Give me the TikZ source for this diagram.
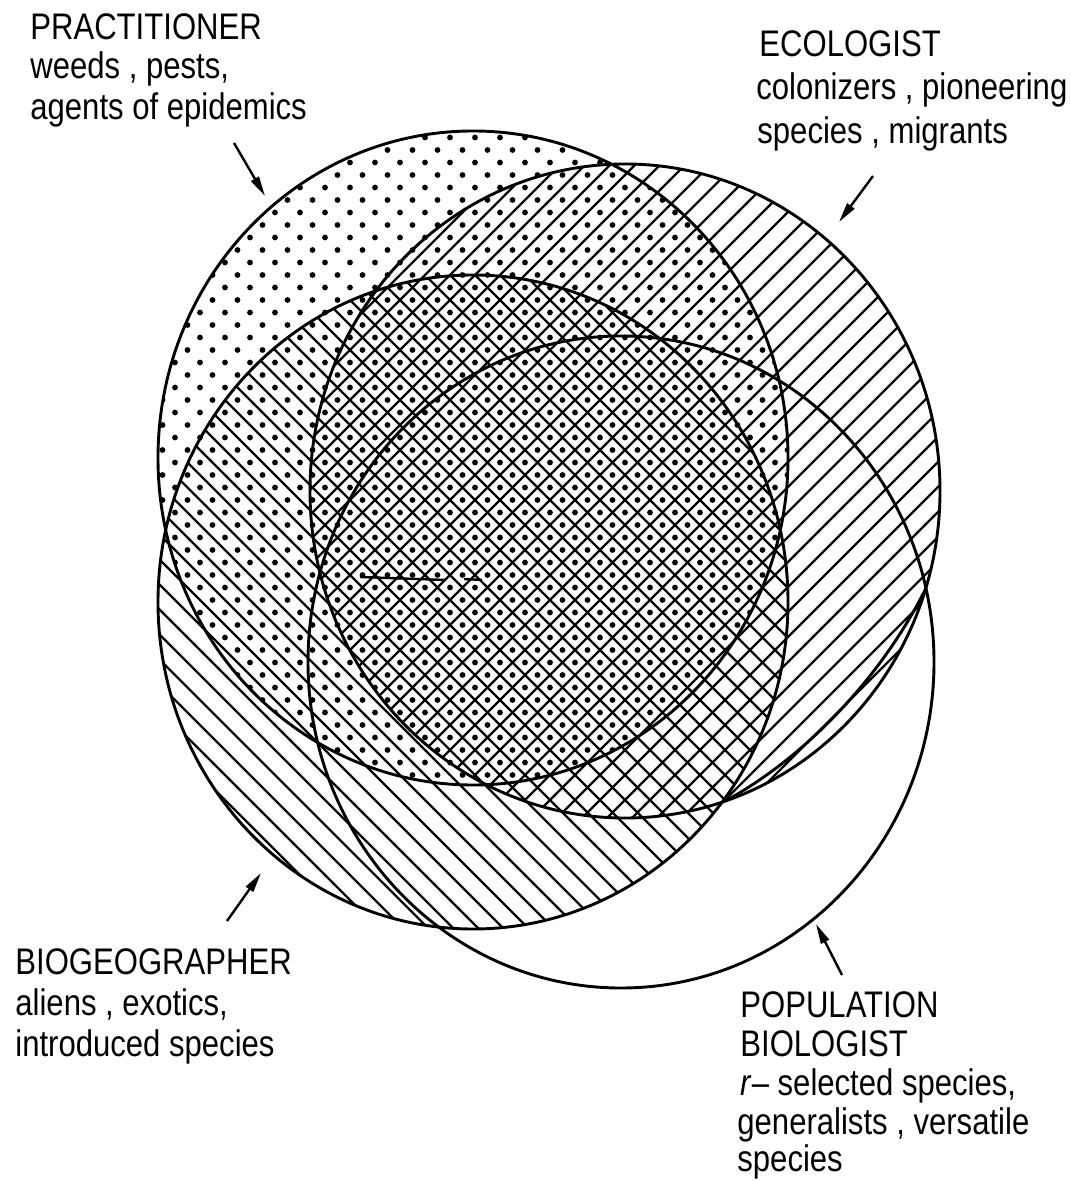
\documentclass[tikz,border=0pt]{standalone}
\usepackage{fontspec}
\setmainfont{Liberation Sans}[FakeStretch=0.84]
\usetikzlibrary{arrows.meta}
\begin{document}
\begin{tikzpicture}[x=0.5pt,y=-0.5pt,
  outline/.style={line width=1.45pt},
  hatchline/.style={line width=1.2pt},
  lbl/.style={anchor=base west, inner sep=0pt, font=\fontsize{18.5pt}{20pt}\selectfont},
  pointer/.style={line width=1.2pt, -{Triangle[length=10pt,width=4.4pt]}}
]
\useasboundingbox (0,0) rectangle (1070,1181);

% ---------- circle centres ----------
\coordinate (cP) at (473,458);   % practitioner (dots)
\coordinate (cE) at (625,491);   % ecologist (/ hatching)
\coordinate (cB) at (473,602);   % biogeographer (\ hatching)
\coordinate (cR) at (621,662);   % population biologist (no fill)

% ---------- practitioner: dots ----------
\begin{scope}
  \clip (cP) ellipse [x radius=315, y radius=327];
  \foreach \i in {12,...,64}{
    \foreach \j in {10,...,63}{
      \ifodd\numexpr\i+\j\relax
        \fill (\i*12.5,\j*12.5) circle[radius=1.45pt];
      \fi
    }
  }
\end{scope}

% ---------- ecologist: / hatching ----------
\begin{scope}
  \clip (cE) ellipse [x radius=315, y radius=327];
  \foreach \k in {18,...,71}
    \draw[hatchline] (\k*25-150,150) -- (\k*25-850,850);
\end{scope}

% ---------- biogeographer: \ hatching ----------
\begin{scope}
  \clip (cB) ellipse [x radius=315, y radius=327];
  \foreach \k in {-31,...,21}
    \draw[hatchline] (\k*25+260,260) -- (\k*25+940,940);
\end{scope}

% ---------- outlines ----------
\draw[outline] (cP) ellipse [x radius=315, y radius=327];
\draw[outline] (cE) ellipse [x radius=315, y radius=327];
\draw[outline] (cB) ellipse [x radius=315, y radius=327];
\draw[outline] (cR) ellipse [x radius=313, y radius=326];

% extra inner arc at lower right
\coordinate (xa1) at (926,588);
\coordinate (xa2) at (727,800);
\draw[outline] (xa1) .. controls (883,675) and (807,756) .. (xa2);

% short stroke in the centre
\coordinate (s1) at (360,577);
\coordinate (s2) at (446,580);
\coordinate (s3) at (464,579);
\coordinate (s4) at (482,580);
\draw[hatchline] (s1) -- (s2);
\draw[hatchline] (s3) -- (s4);

% ---------- labels ----------
\node[lbl] (p1) at (30,40)  {PRACTITIONER};
\node[lbl] (p2) at (30,79)  {weeds , pests,};
\node[lbl] (p3) at (30,120) {agents of epidemics};

\node[lbl] (e1) at (759,57)  {ECOLOGIST};
\node[lbl] (e2) at (756,100) {colonizers , pioneering};
\node[lbl] (e3) at (757,144) {species , migrants};

\node[lbl] (b1) at (15,974)  {BIOGEOGRAPHER};
\node[lbl] (b2) at (15,1015) {aliens , exotics,};
\node[lbl] (b3) at (15,1056) {introduced species};

\node[lbl] (r1) at (740,1017) {POPULATION};
\node[lbl] (r2) at (740,1056) {BIOLOGIST};
\node[lbl] (r3) at (740,1095) {\textit{r}– selected species,};
\node[lbl] (r4) at (737,1134) {generalists , versatile};
\node[lbl] (r5) at (737,1171) {species};

% ---------- pointers ----------
\coordinate (tP) at (234,143);  \coordinate (hP) at (265,196);
\coordinate (tE) at (873,176);  \coordinate (hE) at (839,222);
\coordinate (tB) at (227,921);  \coordinate (hB) at (261,873);
\coordinate (tR) at (842,975);  \coordinate (hR) at (816,924);
\draw[pointer] (tP) -- (hP);
\draw[pointer] (tE) -- (hE);
\draw[pointer] (tB) -- (hB);
\draw[pointer] (tR) -- (hR);
\end{tikzpicture}
\end{document}
